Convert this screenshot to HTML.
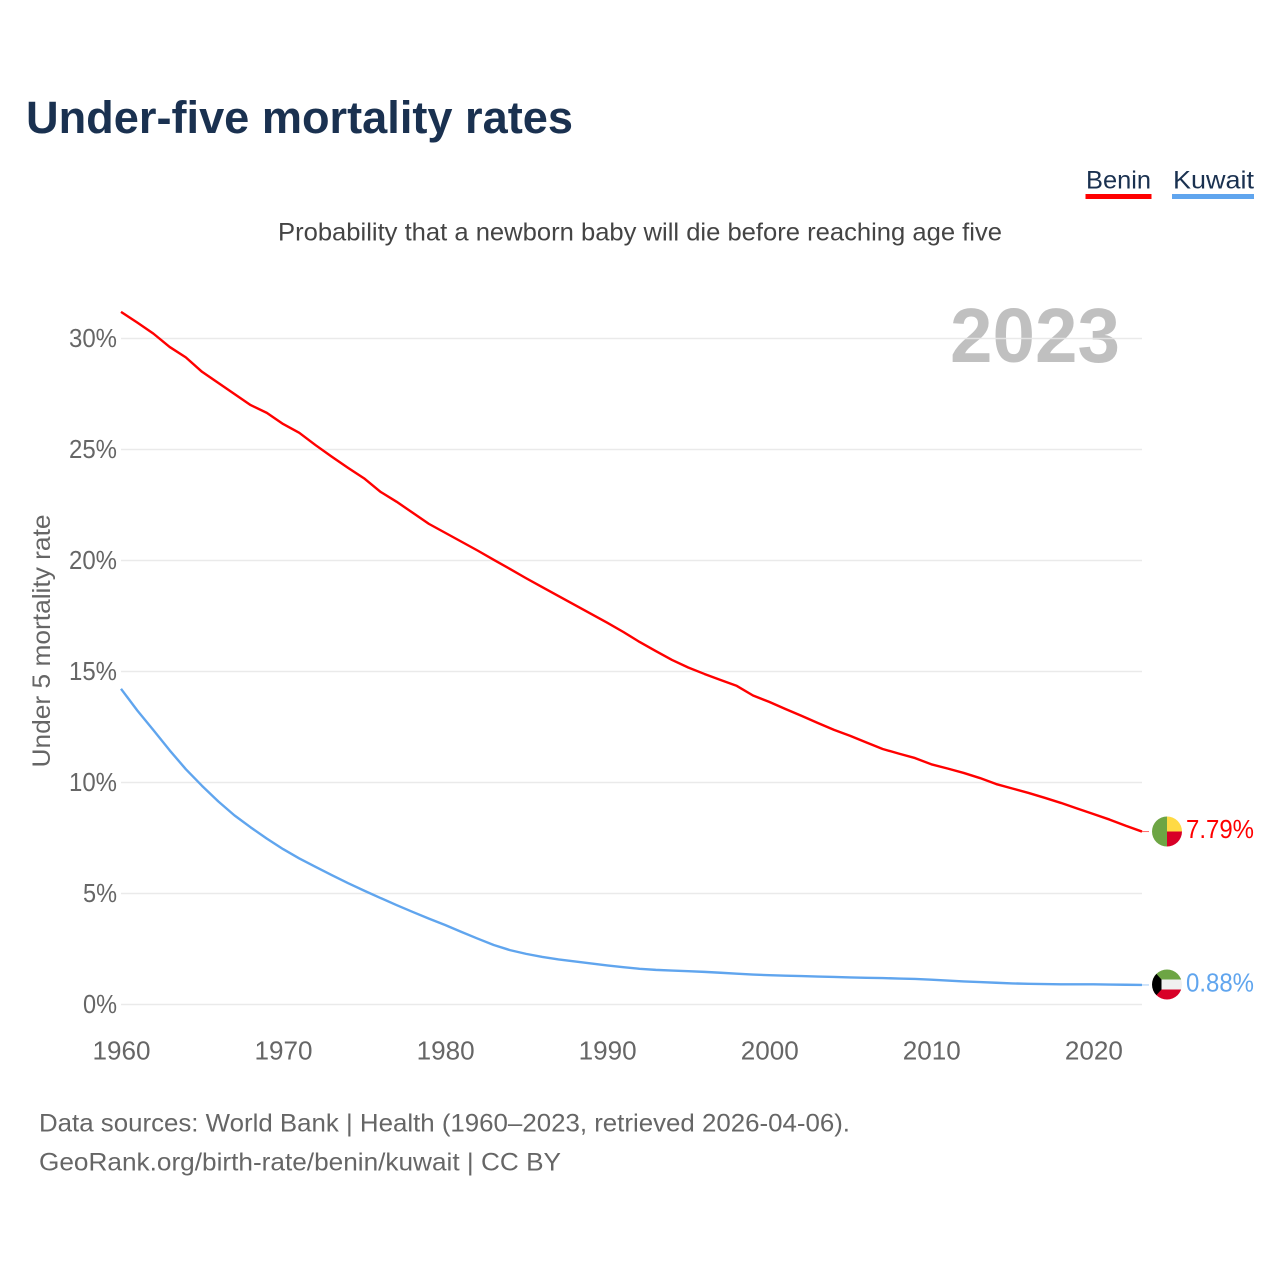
<!DOCTYPE html>
<html lang="en">
<head>
<meta charset="utf-8">
<title>Under-five mortality rates</title>
<style>
html,body{margin:0;padding:0;background:#fff;width:1280px;height:1280px;overflow:hidden}
svg{display:block}
text{font-family:"Liberation Sans",sans-serif}
</style>
</head>
<body>
<svg id="chart" xmlns="http://www.w3.org/2000/svg" width="1280" height="1280" viewBox="0 0 1280 1280">
  <defs>
    <clipPath id="clip-benin"><circle cx="1167" cy="831.5" r="15"/></clipPath>
    <clipPath id="clip-kuwait"><circle cx="1167" cy="984.5" r="15"/></clipPath>
  </defs>
  <rect width="1280" height="1280" fill="#fff"/>
  <text x="26" y="133" font-size="45" font-weight="700" fill="#1a3150" textLength="547" lengthAdjust="spacingAndGlyphs">Under-five mortality rates</text>

  <g>
    <text x="1086" y="188.7" font-size="25" fill="#1a3150" textLength="65" lengthAdjust="spacingAndGlyphs">Benin</text>
    <rect x="1085.5" y="194" width="66" height="5" fill="#ff0000"/>
  </g>
  <g>
    <text x="1173" y="188.7" font-size="25" fill="#1a3150" textLength="81" lengthAdjust="spacingAndGlyphs">Kuwait</text>
    <rect x="1172" y="194" width="82" height="5" fill="#60a5ee"/>
  </g>

  <text x="278" y="240.5" font-size="25" fill="#444" textLength="724" lengthAdjust="spacingAndGlyphs">Probability that a newborn baby will die before reaching age five</text>

  <text x="950" y="362" font-size="77" font-weight="700" fill="#c0c0c0" textLength="170" lengthAdjust="spacingAndGlyphs">2023</text>

  <g id="grid"></g>
  <g id="y-ticks"></g>
  <g id="x-ticks"></g>

  <text transform="translate(50,641) rotate(-90)" text-anchor="middle" font-size="25" fill="#666" textLength="253" lengthAdjust="spacingAndGlyphs">Under 5 mortality rate</text>

  <g id="series"></g>

  <g clip-path="url(#clip-benin)">
    <rect x="1152" y="816" width="15" height="31" fill="#6da544"/>
    <rect x="1167" y="816" width="15" height="15.5" fill="#ffda44"/>
    <rect x="1167" y="831.5" width="15" height="16" fill="#d80027"/>
  </g>
  <g clip-path="url(#clip-kuwait)">
    <rect x="1152" y="969" width="30" height="10.5" fill="#6da544"/>
    <rect x="1152" y="979.5" width="30" height="10" fill="#f0f0f0"/>
    <rect x="1152" y="989.5" width="30" height="11" fill="#d80027"/>
    <polygon points="1152,969 1161.5,979.5 1161.5,989.5 1152,1000" fill="#000"/>
  </g>

  <text x="39" y="1131.5" font-size="25" fill="#666" textLength="811" lengthAdjust="spacingAndGlyphs">Data sources: World Bank | Health (1960–2023, retrieved 2026-04-06).</text>
  <text x="39" y="1170.5" font-size="25" fill="#666" textLength="522" lengthAdjust="spacingAndGlyphs">GeoRank.org/birth-rate/benin/kuwait | CC BY</text>
</svg>

<script>
const startYear = 1960;
const yTickValues = [0, 5, 10, 15, 20, 25, 30];
const yTickLabels = ["0%", "5%", "10%", "15%", "20%", "25%", "30%"];
const xTickYears = [1960, 1970, 1980, 1990, 2000, 2010, 2020];
const xTickLabels = ["1960", "1970", "1980", "1990", "2000", "2010", "2020"];
const beninValues = [
  31.2, 30.72, 30.22, 29.62, 29.15, 28.5, 28.0, 27.5, 27.0, 26.65,
  26.15, 25.75, 25.2, 24.68, 24.18, 23.7, 23.1, 22.65, 22.15, 21.65,
  21.25, 20.85, 20.45, 20.03, 19.62, 19.2, 18.8, 18.4, 18.0, 17.6,
  17.2, 16.78, 16.33, 15.92, 15.52, 15.18, 14.89, 14.62, 14.35, 13.92,
  13.63, 13.31, 13.0, 12.68, 12.37, 12.1, 11.8, 11.51, 11.3, 11.1,
  10.82, 10.63, 10.43, 10.2, 9.93, 9.73, 9.53, 9.31, 9.08, 8.83,
  8.58, 8.33, 8.05, 7.79
];
const kuwaitValues = [
  14.22, 13.25, 12.36, 11.45, 10.6, 9.85, 9.15, 8.52, 7.98, 7.47,
  7.0, 6.58, 6.2, 5.83, 5.47, 5.13, 4.8, 4.48, 4.17, 3.87,
  3.58, 3.27, 2.97, 2.68, 2.45, 2.28, 2.14, 2.03, 1.94, 1.85,
  1.76, 1.68, 1.61, 1.56, 1.53, 1.5, 1.47, 1.43, 1.39, 1.35,
  1.32, 1.3, 1.28, 1.26, 1.24, 1.22, 1.2, 1.19, 1.17, 1.15,
  1.12, 1.08, 1.04, 1.01, 0.98, 0.95, 0.93, 0.92, 0.91, 0.91,
  0.91, 0.9, 0.89, 0.88
];
const beninEndLabel = "7.79%";
const kuwaitEndLabel = "0.88%";

const NS = "http://www.w3.org/2000/svg";
const xScale = year => 121 + (year - 1960) * 16.206;
const yScale = value => 1004.5 - value * 22.2;
const make = (tag, parent) => {
  const el = document.createElementNS(NS, tag);
  parent.appendChild(el);
  return el;
};

const gridGroup = document.getElementById("grid");
const yTickGroup = document.getElementById("y-ticks");
const xTickGroup = document.getElementById("x-ticks");
const seriesGroup = document.getElementById("series");

yTickValues.forEach((value, i) => {
  const line = make("line", gridGroup);
  
  
  line.setAttribute("x1", 121);
  line.setAttribute("x2", 1142);
  line.setAttribute("y1", yScale(value));
  line.setAttribute("y2", yScale(value));
  line.setAttribute("stroke", "#e6e6e6");
  line.setAttribute("stroke-opacity", 0.85);
  line.setAttribute("stroke-width", 1.6);

  const label = make("text", yTickGroup);
  
  
  const width = yTickLabels[i].length === 3 ? 48 : 34;
  label.setAttribute("x", 117 - width);
  label.setAttribute("y", yScale(value) + 8.5);
  label.setAttribute("font-size", 26);
  label.setAttribute("fill", "#666");
  label.setAttribute("textLength", width);
  label.setAttribute("lengthAdjust", "spacingAndGlyphs");
  label.textContent = yTickLabels[i];
});

xTickYears.forEach((year, i) => {
  const label = make("text", xTickGroup);
  
  
  label.setAttribute("x", xScale(year) - 28.5);
  label.setAttribute("y", 1059.5);
  label.setAttribute("font-size", 26);
  label.setAttribute("fill", "#666");
  label.setAttribute("textLength", 58);
  label.setAttribute("lengthAdjust", "spacingAndGlyphs");
  label.textContent = xTickLabels[i];
});

function drawSeries(values, color, endLabel, seriesName) {
  const points = values.map((v, i) => xScale(startYear + i).toFixed(2) + "," + yScale(v).toFixed(2));
  const path = make("polyline", seriesGroup);
  
  
  path.setAttribute("data-series", seriesName);
  path.setAttribute("points", points.join(" "));
  path.setAttribute("fill", "none");
  path.setAttribute("stroke", color);
  path.setAttribute("stroke-width", 2.4);
  path.setAttribute("stroke-linejoin", "round");

  const lastY = yScale(values[values.length - 1]);
  const leader = make("line", seriesGroup);
  
  
  leader.setAttribute("x1", xScale(startYear + values.length - 1));
  leader.setAttribute("x2", 1149);
  leader.setAttribute("y1", lastY);
  leader.setAttribute("y2", lastY);
  leader.setAttribute("stroke", color);
  leader.setAttribute("stroke-opacity", 0.6);
  leader.setAttribute("stroke-width", 1);

  const label = make("text", seriesGroup);
  
  
  label.setAttribute("x", 1186);
  label.setAttribute("y", lastY + 6.5);
  label.setAttribute("font-size", 26);
  label.setAttribute("fill", color);
  label.setAttribute("textLength", 68);
  label.setAttribute("lengthAdjust", "spacingAndGlyphs");
  label.textContent = endLabel;
}

drawSeries(beninValues, "#ff0000", beninEndLabel, "benin");
drawSeries(kuwaitValues, "#60a5ee", kuwaitEndLabel, "kuwait");
</script>
</body>
</html>
